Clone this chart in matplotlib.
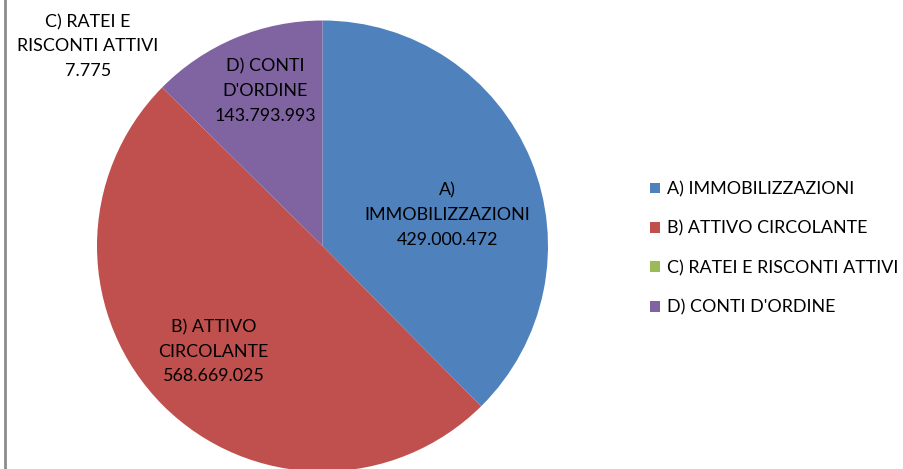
import matplotlib
matplotlib.use("Agg")
import matplotlib.pyplot as plt
from matplotlib.lines import Line2D

labels = ["A) IMMOBILIZZAZIONI", "B) ATTIVO CIRCOLANTE",
          "C) RATEI E RISCONTI ATTIVI", "D) CONTI D'ORDINE"]
slice_text = ["A)\nIMMOBILIZZAZIONI", "B) ATTIVO\nCIRCOLANTE",
              "C) RATEI E\nRISCONTI ATTIVI", "D) CONTI\nD'ORDINE"]
values = [429000472, 568669025, 7775, 143793993]
colors = ["#4F81BD", "#C0504D", "#9BBB59", "#8064A2"]

plt.rcParams["font.family"] = ["Lato", "DejaVu Sans"]
fs = 12.9

fig = plt.figure(figsize=(9.04, 4.69), dpi=100)
W, H = 904, 469
cx, cy, r = 322.5, 469 - 246, 225.5
ax = fig.add_axes([(cx - r) / W, (cy - r) / H, 2 * r / W, 2 * r / H])

wedges, _ = ax.pie(values, colors=colors, startangle=90, counterclock=False,
                   radius=1, wedgeprops=dict(linewidth=0))
ax.set_xlim(-1, 1)
ax.set_ylim(-1, 1)
ax.set_aspect("equal")
ax.axis("off")

def fmt(v):
    return f"{v:,}".replace(",", ".")

# label positions in axes data units
label_pos = [(0.555, 0.137), (-0.483, -0.470), (-1.040, 0.885), (-0.253, 0.687)]
for txt, v, (x, y) in zip(slice_text, values, label_pos):
    ax.text(x, y, txt + "\n" + fmt(v), ha="center", va="center",
            fontsize=fs, linespacing=1.65, clip_on=False)

fig.legend(wedges, labels, loc="upper left", bbox_to_anchor=(643 / W, 1 - 174 / H),
           frameon=False, fontsize=fs, handlelength=0.55, handleheight=0.55,
           handletextpad=0.4, labelspacing=1.3, borderaxespad=0)

fig.add_artist(Line2D([5.5 / W, 5.5 / W], [0, 1], color="#8c8c8c", lw=2,
                      transform=fig.transFigure))

fig.savefig("out.png", dpi=100)
